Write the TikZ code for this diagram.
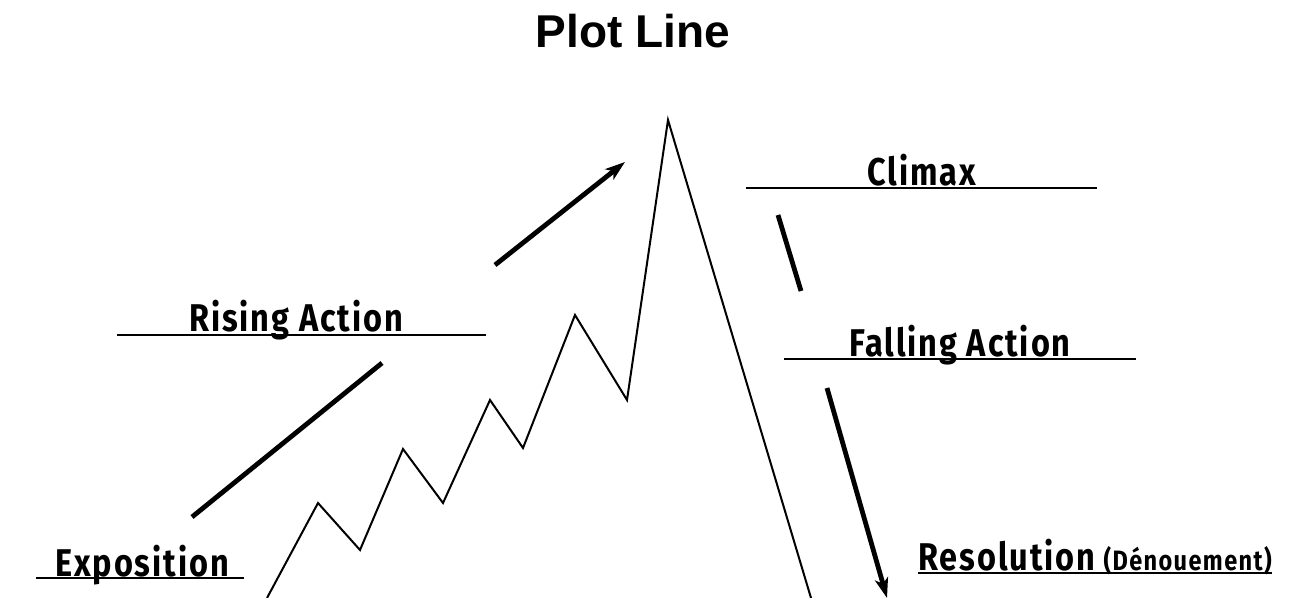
\documentclass[tikz,border=0pt]{standalone}
\usepackage{fontspec}
\usetikzlibrary{arrows.meta}
\newfontfamily\titlefont{Liberation Sans}
\newfontfamily\handfont[FakeStretch=0.84,LetterSpace=5]{Fira Sans}
\begin{document}
\begin{tikzpicture}[x=0.75pt,y=-0.75pt,
  plotline/.style={line width=1.5pt, line join=miter},
  thickline/.style={line width=3.6pt},
  thickarrow/.style={line width=3.6pt, -{Stealth[length=15pt,width=10pt,inset=4pt]}},
  uline/.style={line width=1.4pt},
  lbl/.style={inner sep=0pt, anchor=base, font=\handfont\bfseries\fontsize{29}{30}\selectfont},
  small/.style={inner sep=0pt, anchor=base east, font=\handfont\bfseries\fontsize{21}{22}\selectfont}]
\useasboundingbox[fill=white] (0,0) rectangle (1306,598);
\node[inner sep=0pt, anchor=base, font=\titlefont\bfseries\fontsize{34.5}{36}\selectfont] (title) at (633,48) {Plot Line};
% zigzag plot line
\coordinate (p0) at (267,598);
\coordinate (p1) at (318,503);
\coordinate (p2) at (360,550);
\coordinate (p3) at (403,449);
\coordinate (p4) at (443,503);
\coordinate (p5) at (490,400);
\coordinate (p6) at (523,448);
\coordinate (p7) at (575,315);
\coordinate (p8) at (627,400);
\coordinate (peak) at (668,120);
\coordinate (p10) at (811,598);
\draw[plotline] (p0) -- (p1) -- (p2) -- (p3) -- (p4) -- (p5) -- (p6) -- (p7) -- (p8) -- (peak) -- (p10);
% labels
\node[lbl] (expo) at (142,576) {Exposition};
\draw[uline] (36,578) -- (244,578);
\node[lbl] (rising) at (296,332) {Rising Action};
\draw[uline] (117,335) -- (486,335);
\node[lbl] (climax) at (922,186) {Climax};
\draw[uline] (746,188) -- (1097,188);
\node[lbl] (falling) at (960,357) {Falling Action};
\draw[uline] (784,359) -- (1136,359);
\node[lbl, anchor=base west] (resol) at (918,570) {Resolution};
\node[small] (denoue) at (1272,570) {(Dénouement)};
\draw[uline] (918,573) -- (1272,573);
% thick arrows
\coordinate (a1s) at (192,517);
\coordinate (a1e) at (382,363);
\draw[thickline] (a1s) -- (a1e);
\coordinate (a2s) at (495,265);
\coordinate (a2e) at (625,162);
\draw[thickarrow] (a2s) -- (a2e);
\coordinate (a3s) at (778,215);
\coordinate (a3e) at (801,291);
\draw[thickline] (a3s) -- (a3e);
\coordinate (a4s) at (827,388);
\coordinate (a4e) at (887,598);
\draw[thickarrow] (a4s) -- (a4e);
\end{tikzpicture}
\end{document}
